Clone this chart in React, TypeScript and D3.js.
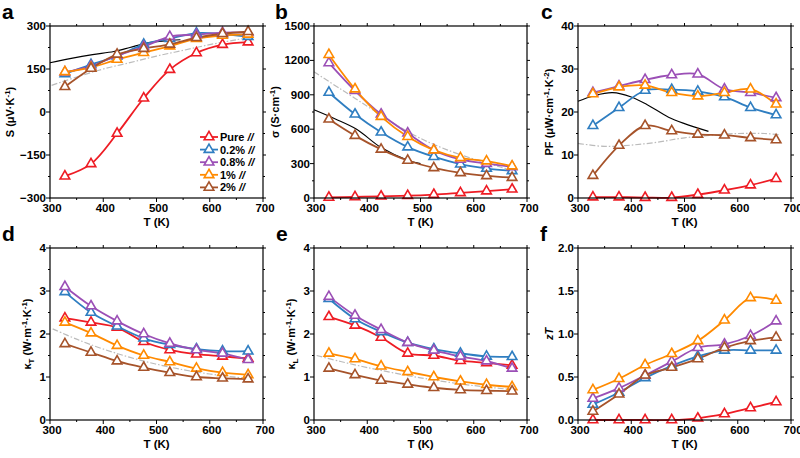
import React, { useEffect, useRef } from 'react';
import * as d3 from 'd3';

// temperatures of the measured points
const temps = [328, 377, 426, 476, 525, 575, 624, 672];
const seriesNames = ['Pure', '0.2%', '0.8%', '1%', '2%'];
const seriesColors = ['#ee1c24', '#2f7ec1', '#9b4fb6', '#ff8a00', '#a6532a'];

// one row per series, in seriesNames order
const seebeck = [
  [-224, -181, -75, 48, 148, 206, 235, 244],
  [133, 165, 195, 236, 256, 275, 272, 263],
  [139, 160, 197, 228, 263, 270, 277, 277],
  [140, 155, 183, 207, 230, 256, 267, 271],
  [88, 152, 201, 221, 236, 259, 273, 280],
];
const sigma = [
  [5, 10, 15, 20, 30, 45, 60, 76],
  [920, 730, 573, 444, 360, 295, 257, 237],
  [1178, 935, 730, 565, 418, 336, 300, 272],
  [1250, 950, 710, 535, 418, 350, 322, 278],
  [687, 544, 424, 327, 263, 219, 193, 178],
];
const powerFactor = [
  [0.2, 0.2, 0.1, 0.1, 0.8, 1.8, 3.0, 4.5],
  [16.8, 21, 25, 25.2, 24.8, 23.5, 21, 19.3],
  [24.5, 26, 27.5, 28.6, 28.8, 25.3, 24.5, 23.3],
  [24.2, 25.8, 26.2, 24.5, 23.7, 24.5, 25.3, 21.8],
  [5.2, 12.2, 16.8, 15.6, 14.8, 14.6, 14, 13.5],
];
const kappaT = [
  [2.37, 2.27, 2.15, 1.82, 1.63, 1.53, 1.48, 1.43],
  [2.98, 2.5, 2.18, 1.9, 1.75, 1.65, 1.6, 1.6],
  [3.1, 2.65, 2.3, 2.0, 1.78, 1.63, 1.55, 1.4],
  [2.27, 2.02, 1.73, 1.5, 1.35, 1.2, 1.1, 1.05],
  [1.77, 1.57, 1.37, 1.22, 1.1, 1.0, 0.97, 0.95],
];
const kappaL = [
  [2.4, 2.2, 1.92, 1.55, 1.5, 1.38, 1.33, 1.27],
  [2.82, 2.35, 2.05, 1.8, 1.65, 1.55, 1.48, 1.47],
  [2.87, 2.43, 2.1, 1.8, 1.62, 1.48, 1.37, 1.2],
  [1.55, 1.42, 1.25, 1.12, 1.0, 0.9, 0.82, 0.77],
  [1.2, 1.05, 0.92, 0.83, 0.75, 0.7, 0.68, 0.67],
];
const zT = [
  [0, 0, 0, 0, 0.02, 0.07, 0.14, 0.21],
  [0.18, 0.32, 0.49, 0.63, 0.74, 0.81, 0.81, 0.81],
  [0.25, 0.37, 0.52, 0.68, 0.84, 0.88, 0.98, 1.15],
  [0.35, 0.48, 0.64, 0.77, 0.92, 1.16, 1.42, 1.39],
  [0.1, 0.3, 0.52, 0.61, 0.71, 0.84, 0.92, 0.96],
];

// reference curves [T, value]
const blackS = [[300, 172], [340, 187], [380, 200], [420, 211], [450, 225], [480, 240], [515, 248], [545, 252]];
const grayS = [[303, 93], [350, 122], [400, 150], [450, 172], [500, 195], [550, 215], [600, 235], [650, 252], [680, 262]];
const blackSigma = [[300, 770], [340, 690], [380, 600], [426, 440], [476, 330], [500, 300]];
const graySigma = [[300, 1100], [350, 950], [400, 800], [450, 650], [500, 520], [550, 420], [600, 340], [650, 270], [680, 230]];
const blackPF = [[300, 22.5], [330, 23.8], [365, 24.5], [400, 23.5], [430, 21.7], [470, 18.8], [500, 17.3], [545, 15.5]];
const grayPF = [[300, 12.7], [350, 12], [400, 12.3], [450, 13], [500, 14], [550, 14.6], [600, 15], [650, 15], [680, 14.7]];
const grayKT = [[305, 2.12], [350, 1.88], [400, 1.65], [476, 1.37], [550, 1.17], [600, 1.07], [680, 0.95]];
const grayKL = [[305, 1.5], [350, 1.36], [400, 1.22], [500, 0.98], [600, 0.8], [680, 0.7]];

type Part = { t: string; sup?: boolean; sub?: boolean; italic?: boolean };

interface PanelDef {
  letter: string;
  left: number;
  top: number;
  data: number[][];
  yDomain: [number, number];
  yStep: number;
  yFormat: (v: number) => string;
  yLabel: Part[];
  labelX: number;
  letterX: number;
  black?: number[][];
  gray?: number[][];
  legend?: boolean;
}

const W = 213;
const H = 172;

const panels: PanelDef[] = [
  { letter: 'a', left: 50, top: 26, data: seebeck, yDomain: [-300, 300], yStep: 150, yFormat: d3.format('d'),
    yLabel: [{ t: 'S (μV·K' }, { t: '-1', sup: true }, { t: ')' }], labelX: 14, letterX: 2, black: blackS, gray: grayS, legend: true },
  { letter: 'b', left: 314, top: 26, data: sigma, yDomain: [0, 1500], yStep: 300, yFormat: d3.format('d'),
    yLabel: [{ t: 'σ (S·cm' }, { t: '-1', sup: true }, { t: ')' }], labelX: 279, letterX: 275, black: blackSigma, gray: graySigma },
  { letter: 'c', left: 578, top: 26, data: powerFactor, yDomain: [0, 40], yStep: 10, yFormat: d3.format('d'),
    yLabel: [{ t: 'PF (μW·cm' }, { t: '-1', sup: true }, { t: '·K' }, { t: '-2', sup: true }, { t: ')' }], labelX: 553, letterX: 541, black: blackPF, gray: grayPF },
  { letter: 'd', left: 50, top: 248, data: kappaT, yDomain: [0, 4], yStep: 1, yFormat: d3.format('d'),
    yLabel: [{ t: 'κ' }, { t: 'T', sub: true }, { t: ' (W·m' }, { t: '-1', sup: true }, { t: '·K' }, { t: '-1', sup: true }, { t: ')' }], labelX: 31, letterX: 2, gray: grayKT },
  { letter: 'e', left: 314, top: 248, data: kappaL, yDomain: [0, 4], yStep: 1, yFormat: d3.format('d'),
    yLabel: [{ t: 'κ' }, { t: 'L', sub: true }, { t: ' (W·m' }, { t: '-1', sup: true }, { t: '·K' }, { t: '-1', sup: true }, { t: ')' }], labelX: 295, letterX: 276, gray: grayKL },
  { letter: 'f', left: 578, top: 248, data: zT, yDomain: [0, 2], yStep: 0.5, yFormat: d3.format('.1f'),
    yLabel: [{ t: 'zT', italic: true }], labelX: 553, letterX: 540 },
];

const FONT = 'Liberation Sans, Arial, sans-serif';

const App: React.FC = () => {
  const svgRef = useRef<SVGSVGElement | null>(null);

  useEffect(() => {
    if (!svgRef.current) return;
    const svg = d3.select(svgRef.current);
    svg.selectAll('*').remove();
    svg.append('rect').attr('width', 800).attr('height', 458).attr('fill', '#fff');

    const triangle = d3.symbol().type(d3.symbolTriangle).size(40);

    panels.forEach(p => {
      const x = d3.scaleLinear().domain([300, 700]).range([p.left, p.left + W]);
      const y = d3.scaleLinear().domain(p.yDomain).range([p.top + H, p.top]);
      const g = svg.append('g');

      // reference curves
      const refLine = d3.line<number[]>().x(d => x(d[0])).y(d => y(d[1])).curve(d3.curveCatmullRom.alpha(0.5));
      if (p.gray) {
        g.append('path').attr('d', refLine(p.gray)).attr('fill', 'none')
          .attr('stroke', '#bbbbbb').attr('stroke-width', 1.2).attr('stroke-dasharray', '6,2,1.5,2');
      }
      if (p.black) {
        g.append('path').attr('d', refLine(p.black)).attr('fill', 'none')
          .attr('stroke', '#000').attr('stroke-width', 1.1);
      }

      // series
      const line = d3.line<number>().x((d, i) => x(temps[i])).y(d => y(d)).curve(d3.curveCatmullRom.alpha(0.5));
      p.data.forEach((vals, si) => {
        g.append('path').attr('d', line(vals)).attr('fill', 'none')
          .attr('stroke', seriesColors[si]).attr('stroke-width', 1.8);
      });
      p.data.forEach((vals, si) => {
        g.selectAll(null).data(vals).enter().append('path')
          .attr('d', triangle)
          .attr('transform', (d, i) => `translate(${x(temps[i])},${y(d)})`)
          .attr('fill', '#fff')
          .attr('stroke', seriesColors[si])
          .attr('stroke-width', 1.6);
      });

      // frame
      g.append('rect').attr('x', p.left).attr('y', p.top).attr('width', W).attr('height', H)
        .attr('fill', 'none').attr('stroke', '#000').attr('stroke-width', 1.2);

      // ticks on all four sides, pointing out
      const xMajor = d3.range(300, 701, 100);
      const xMinor = d3.range(350, 700, 100);
      const yMajor = d3.range(p.yDomain[0], p.yDomain[1] + p.yStep / 2, p.yStep);
      const yMinor = d3.range(p.yDomain[0] + p.yStep / 2, p.yDomain[1], p.yStep);
      const tick = (x1: number, y1: number, x2: number, y2: number) =>
        g.append('line').attr('x1', x1).attr('y1', y1).attr('x2', x2).attr('y2', y2)
          .attr('stroke', '#000').attr('stroke-width', 1);
      xMajor.forEach(v => { tick(x(v), p.top + H, x(v), p.top + H + 4); tick(x(v), p.top, x(v), p.top - 3); });
      xMinor.forEach(v => { tick(x(v), p.top + H, x(v), p.top + H + 2); tick(x(v), p.top, x(v), p.top - 2); });
      yMajor.forEach(v => { tick(p.left, y(v), p.left - 4, y(v)); tick(p.left + W, y(v), p.left + W + 3, y(v)); });
      yMinor.forEach(v => { tick(p.left, y(v), p.left - 2, y(v)); tick(p.left + W, y(v), p.left + W + 2, y(v)); });

      // tick labels
      g.selectAll(null).data(xMajor).enter().append('text')
        .attr('x', d => x(d) + 2).attr('y', p.top + H + 14)
        .attr('text-anchor', 'middle')
        .style('font', `bold 11.5px ${FONT}`)
        .text(d => d);
      g.selectAll(null).data(yMajor).enter().append('text')
        .attr('x', p.left - 4).attr('y', d => y(d) + 4)
        .attr('text-anchor', 'end')
        .style('font', `bold 11.5px ${FONT}`)
        .text(d => p.yFormat(d));

      // axis titles
      g.append('text')
        .attr('x', p.left + W / 2).attr('y', p.top + H + 28)
        .attr('text-anchor', 'middle')
        .style('font', `bold 11.5px ${FONT}`)
        .text('T (K)');

      const cy = p.top + H / 2;
      const yl = g.append('text')
        .attr('transform', `translate(${p.labelX},${cy}) rotate(-90)`)
        .attr('text-anchor', 'middle')
        .style('font', `bold 11px ${FONT}`);
      let shift = 0;
      p.yLabel.forEach(part => {
        const target = part.sup ? -4 : part.sub ? 3 : 0;
        const ts = yl.append('tspan').attr('dy', target - shift).text(part.t);
        if (part.sup || part.sub) ts.style('font-size', '8px');
        if (part.italic) ts.style('font-style', 'italic');
        shift = target;
      });

      // panel letter
      g.append('text')
        .attr('x', p.letterX).attr('y', p.top - 7)
        .style('font', `bold 21px ${FONT}`)
        .text(p.letter);

      // legend
      if (p.legend) {
        seriesNames.forEach((name, si) => {
          const ly = 137 + si * 12.6;
          g.append('line').attr('x1', 200).attr('x2', 218).attr('y1', ly).attr('y2', ly)
            .attr('stroke', seriesColors[si]).attr('stroke-width', 1.8);
          g.append('path').attr('d', triangle).attr('transform', `translate(209,${ly})`)
            .attr('fill', '#fff').attr('stroke', seriesColors[si]).attr('stroke-width', 1.6);
          const t = g.append('text').attr('x', 220).attr('y', ly + 4)
            .style('font', `bold 11px ${FONT}`);
          t.append('tspan').text(name + ' ');
          t.append('tspan').style('font-style', 'italic').text('//');
        });
      }
    });
  }, []);

  return (
    <svg ref={svgRef} width={800} height={458}
      style={{ position: 'absolute', left: 0, top: 0, display: 'block' }} />
  );
};

export default App;
